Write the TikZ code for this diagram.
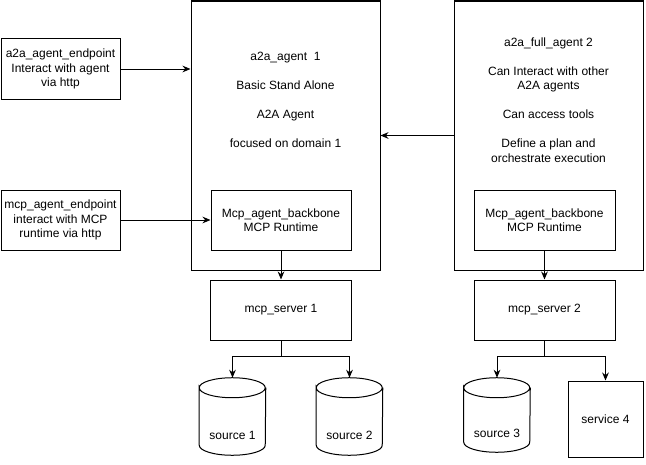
\documentclass[tikz,border=0pt]{standalone}
\usepackage{fontspec}
\setmainfont{Liberation Sans}
\usetikzlibrary{arrows.meta}
\newcommand\linegap{10.9pt}

\begin{document}
\begin{tikzpicture}[x=0.75pt,y=-0.75pt,
  font=\fontsize{9}{10.875}\selectfont,
  every node/.style={inner sep=0pt},
  blk/.style 2 args={draw,line width=0.75pt,align=center,minimum width=#1*0.75pt,minimum height=#2*0.75pt},
  db/.style={minimum width=66*0.75pt,minimum height=#1*0.75pt},
  link/.style={line width=0.75pt,-{Stealth[length=6pt,width=5pt]}}]
\useasboundingbox (0,0) rectangle (646,464);
\node[blk={119}{61}] (ep1) at (60.5,69) {a2a\_agent\_endpoint\\Interact with agent\\via http};
\node[blk={119}{60}] (ep2) at (60.5,220) {mcp\_agent\_endpoint\\interact with MCP\\runtime via http};
\node[blk={189}{269}] (ag1) at (285.5,135.5) {};
\node[align=center] (ag1txt) at (285.5,100) {a2a\_agent\ \ 1\\[\linegap]Basic Stand Alone\\[\linegap]A2A Agent\\[\linegap]focused on domain 1};
\node[blk={189}{269}] (ag2) at (548.5,135.5) {};
\node[align=center] (ag2txt) at (548.5,100) {a2a\_full\_agent 2\\[\linegap]Can Interact with other\\A2A agents\\[\linegap]Can access tools\\[\linegap]Define a plan and\\orchestrate execution};
\node[blk={140}{60}] (bb1) at (281,220) {Mcp\_agent\_backbone\\MCP Runtime};
\node[blk={141}{60}] (bb2) at (544.5,220) {Mcp\_agent\_backbone\\MCP Runtime};
\node[blk={141}{60}] (srv1) at (281,310) {mcp\_server 1};
\node[blk={141}{60}] (srv2) at (544.5,310) {mcp\_server 2};
\foreach \n/\cx/\cy/\h/\t in {src1/232.5/416.5/77/source 1,src2/349.5/416.5/77/source 2,src3/497/415/74/source 3}{
  \node[db=\h] (\n) at (\cx,\cy) {};
  \draw[line width=0.75pt] ([yshift=-7.5pt]\n.north west) arc[start angle=180,end angle=-180,x radius=24.75pt,y radius=7.5pt]
    -- ([yshift=7.5pt]\n.south west) arc[start angle=180,end angle=360,x radius=24.75pt,y radius=7.5pt]
    -- ([yshift=-7.5pt]\n.north east);
  \node (\n txt) at ([yshift=-14pt]\n.center) {\t};
}
\node[blk={75}{76}] (svc4) at (605.5,419) {service 4};
\draw[link] (ep1.east) -- (ep1.east -| ag1.west);
\draw[link] (ep2.east) -- (bb1.west);
\draw[link] (ag2.west) -- (ag1.east);
\draw[link] (bb1.south) -- (srv1.north);
\draw[link] (bb2.south) -- (srv2.north);
\draw[link] (srv1.south) -- ++(0,16) -| (src1.north);
\draw[link] (srv1.south) -- ++(0,16) -| (src2.north);
\draw[link] (srv2.south) -- ++(0,16) -| (src3.north);
\draw[link] (srv2.south) -- ++(0,16) -| (svc4.north);
\end{tikzpicture}
\end{document}
